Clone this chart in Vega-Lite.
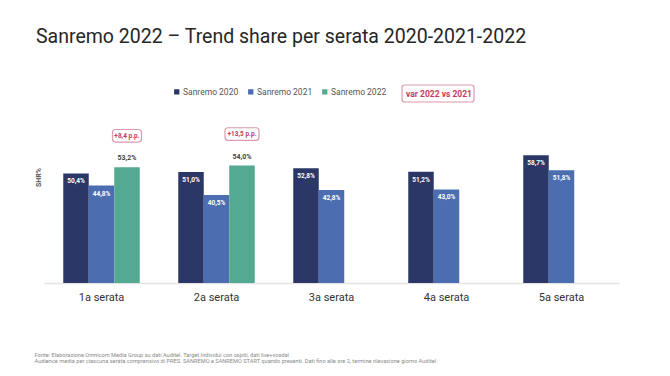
{
  "$schema": "https://vega.github.io/schema/vega-lite/v6.json",
  "width": 575,
  "height": 174,
  "autosize": {"type": "none"},
  "padding": {"left": 44, "top": 109, "right": 51, "bottom": 93},
  "background": "white",
  "title": {
    "text": "Sanremo 2022 – Trend share per serata 2020-2021-2022",
    "anchor": "start",
    "frame": "group",
    "dx": -8,
    "offset": 20,
    "baseline": "alphabetic",
    "font": "Roboto",
    "fontSize": 19.5,
    "fontWeight": "normal",
    "color": "#262626"
  },
  "config": {
    "view": {"stroke": null},
    "font": "Roboto"
  },
  "datasets": {
    "share": [
      {"serata": "1a serata", "anno": "Sanremo 2020", "share": 50.4},
      {"serata": "1a serata", "anno": "Sanremo 2021", "share": 44.8},
      {"serata": "1a serata", "anno": "Sanremo 2022", "share": 53.2},
      {"serata": "2a serata", "anno": "Sanremo 2020", "share": 51.0},
      {"serata": "2a serata", "anno": "Sanremo 2021", "share": 40.5},
      {"serata": "2a serata", "anno": "Sanremo 2022", "share": 54.0},
      {"serata": "3a serata", "anno": "Sanremo 2020", "share": 52.8},
      {"serata": "3a serata", "anno": "Sanremo 2021", "share": 42.8},
      {"serata": "4a serata", "anno": "Sanremo 2020", "share": 51.2},
      {"serata": "4a serata", "anno": "Sanremo 2021", "share": 43.0},
      {"serata": "5a serata", "anno": "Sanremo 2020", "share": 58.7},
      {"serata": "5a serata", "anno": "Sanremo 2021", "share": 51.8}
    ],
    "variazione": [
      {"serata": "1a serata", "anno": "Sanremo 2022", "share": 53.2, "var": 8.4},
      {"serata": "2a serata", "anno": "Sanremo 2022", "share": 54.0, "var": 13.5}
    ]
  },
  "encoding": {
    "x": {
      "field": "serata",
      "type": "nominal",
      "scale": {
        "domain": ["1a serata", "2a serata", "3a serata", "4a serata", "5a serata"],
        "paddingInner": 0,
        "paddingOuter": 0
      },
      "axis": {
        "labelAngle": 0,
        "labelFontSize": 11,
        "labelColor": "#333333",
        "labelPadding": 8,
        "ticks": false,
        "domainColor": "#e4e4e4",
        "domainWidth": 1.5,
        "title": [
          "Fonte: Elaborazione Omnicom Media Group su dati Auditel. Target Individui con ospiti, dati live+vosdal",
          "Audience media per ciascuna serata comprensivo di PRES. SANREMO e SANREMO START quando presenti. Dati fino alle ore 2, termine rilevazione giorno Auditel"
        ],
        "titleFontSize": 5.65,
        "titleFontWeight": "normal",
        "titleColor": "#8a8a8a",
        "titleAlign": "left",
        "titleAnchor": "start",
        "titleBaseline": "alphabetic",
        "titleX": -10,
        "titleY": 73.5,
        "titleLineHeight": 6.3
      }
    },
    "xOffset": {
      "field": "anno",
      "type": "nominal",
      "scale": {
        "domain": ["Sanremo 2020", "Sanremo 2021", "Sanremo 2022"],
        "paddingInner": 0,
        "paddingOuter": 0.755
      }
    },
    "y": {
      "field": "share",
      "type": "quantitative",
      "scale": {"domain": [0, 80], "nice": false},
      "axis": {
        "labels": false,
        "ticks": false,
        "domain": false,
        "grid": false,
        "title": "SHR%",
        "titleFontSize": 7,
        "titleFontWeight": "bold",
        "titleColor": "#555555",
        "titleBaseline": "middle",
        "titleX": -6,
        "titleY": 68
      }
    }
  },
  "layer": [
    {
      "data": {"name": "share"},
      "mark": {"type": "bar"},
      "encoding": {
        "color": {
          "field": "anno",
          "type": "nominal",
          "scale": {
            "domain": ["Sanremo 2020", "Sanremo 2021", "Sanremo 2022"],
            "range": ["#2b3867", "#4c6eb0", "#53aa91"]
          },
          "legend": {
            "title": null,
            "orient": "none",
            "direction": "horizontal",
            "legendX": 128.5,
            "legendY": -21.5,
            "padding": 0,
            "symbolType": "square",
            "symbolSize": 28,
            "symbolStrokeWidth": 0,
            "labelFontSize": 8.5,
            "labelColor": "#555555",
            "labelOffset": 2,
            "columnPadding": 8
          }
        }
      }
    },
    {
      "data": {"name": "share"},
      "transform": [
        {"filter": "datum.anno !== 'Sanremo 2022'"},
        {"calculate": "replace(format(datum.share, '.1f'), '.', ',') + '%'", "as": "label"}
      ],
      "mark": {"type": "text", "color": "white", "fontSize": 6.5, "fontWeight": "bold", "baseline": "middle", "dy": 8},
      "encoding": {"text": {"field": "label"}}
    },
    {
      "data": {"name": "share"},
      "transform": [
        {"filter": "datum.anno === 'Sanremo 2022'"},
        {"calculate": "replace(format(datum.share, '.1f'), '.', ',') + '%'", "as": "label"}
      ],
      "mark": {"type": "text", "color": "#444444", "fontSize": 7, "fontWeight": "bold", "baseline": "middle", "dy": -9},
      "encoding": {"text": {"field": "label"}}
    },
    {
      "data": {"name": "variazione"},
      "mark": {"type": "point", "filled": true, "fill": "white", "strokeWidth": 1.2, "size": 400, "yOffset": -31.5, "opacity": 1},
      "encoding": {
        "shape": {
          "field": "serata",
          "type": "nominal",
          "scale": {
            "domain": ["1a serata", "2a serata"],
            "range": [
              "M-1.15,-0.63H1.15A0.3,0.3 0 0 1 1.45,-0.33V0.33A0.3,0.3 0 0 1 1.15,0.63H-1.15A0.3,0.3 0 0 1 -1.45,0.33V-0.33A0.3,0.3 0 0 1 -1.15,-0.63Z",
              "M-1.4,-0.63H1.4A0.3,0.3 0 0 1 1.7,-0.33V0.33A0.3,0.3 0 0 1 1.4,0.63H-1.4A0.3,0.3 0 0 1 -1.7,0.33V-0.33A0.3,0.3 0 0 1 -1.4,-0.63Z"
            ]
          },
          "legend": null
        },
        "stroke": {
          "datum": "var 2022 vs 2021",
          "type": "nominal",
          "scale": {"range": ["#dd9aae"]},
          "legend": {
            "title": null,
            "orient": "none",
            "legendX": 383,
            "legendY": -26.5,
            "padding": 0,
            "symbolType": "M-3.35,-0.85H3.35A0.25,0.25 0 0 1 3.6,-0.6V0.6A0.25,0.25 0 0 1 3.35,0.85H-3.35A0.25,0.25 0 0 1 -3.6,0.6V-0.6A0.25,0.25 0 0 1 -3.35,-0.85Z",
            "symbolSize": 400,
            "symbolFillColor": "white",
            "symbolStrokeWidth": 1.2,
            "symbolOpacity": 1,
            "labelAlign": "center",
            "labelOffset": -10,
            "labelFontSize": 8.5,
            "labelFontWeight": "bold",
            "labelColor": "#c8385a"
          }
        }
      }
    },
    {
      "data": {"name": "variazione"},
      "transform": [
        {"calculate": "'+' + replace(format(datum.var, '.1f'), '.', ',') + ' p.p.'", "as": "label"}
      ],
      "mark": {"type": "text", "color": "#c8385a", "fontSize": 6.5, "fontWeight": "bold", "baseline": "middle", "yOffset": -31.5},
      "encoding": {"text": {"field": "label"}}
    }
  ]
}
